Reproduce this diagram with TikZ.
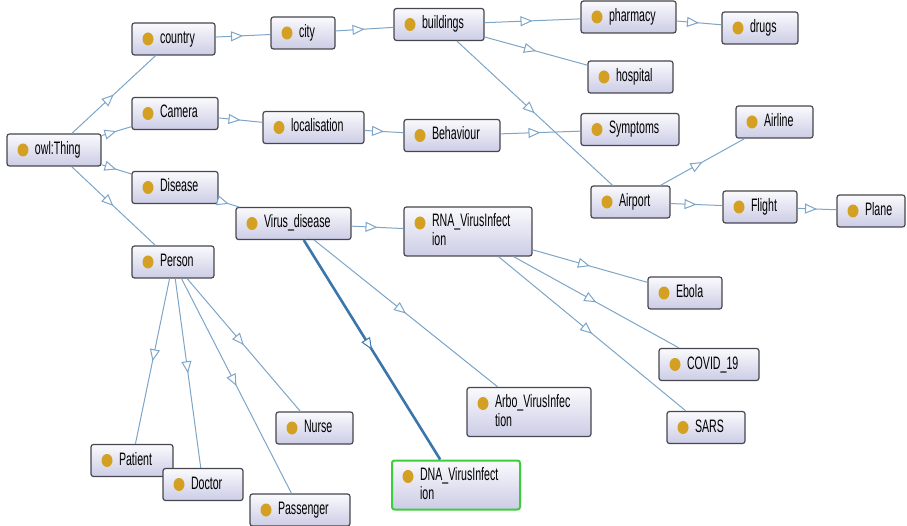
\documentclass[tikz,border=0pt]{standalone}
\usepackage{fontspec}
\setmainfont{Liberation Sans}[FakeStretch=0.59]
\usepackage{tikz}
\usetikzlibrary{arrows.meta,decorations.markings}
\usepackage{xcolor}
\definecolor{boxline}{RGB}{70,70,78}
\definecolor{boxtop}{RGB}{250,250,253}
\definecolor{boxbot}{RGB}{204,204,230}
\definecolor{dotgold}{RGB}{212,160,36}
\definecolor{isablue}{RGB}{125,165,200}
\definecolor{dnablue}{RGB}{58,118,172}
\definecolor{selgreen}{RGB}{60,205,60}
\tikzstyle{cls} = [draw=boxline, line width=1.2pt, rounded corners=2.5pt,
  top color=boxtop, bottom color=boxbot, inner xsep=0pt, inner ysep=2pt,
  minimum height=32pt, text height=13pt, text depth=4pt, align=left,
  font=\fontsize{18}{19}\selectfont, execute at begin node={\leftskip=28pt},
  path picture={\fill[dotgold] ([xshift=16pt,yshift=-16pt]path picture bounding box.north west) ellipse (5.5pt and 6.5pt);}]
\tikzstyle{twoline} = [minimum height=49pt, text depth=23pt]
\tikzstyle{isa} = [draw=isablue, line width=1pt, postaction={decorate},
  decoration={markings, mark=at position 0.5 with {\arrow[line width=1pt]{Triangle[length=12pt,width=10pt,fill=white]}}}]
\tikzstyle{isabold} = [isa, draw=dnablue, line width=2.6pt]

\begin{document}
\begin{tikzpicture}[x=1pt,y=-1pt]
\useasboundingbox (0,0) rectangle (907,526);

% Classes
\node[cls, text width=94pt] (thing) at (54,150) {owl:Thing};
\node[cls, text width=83pt] (country) at (173.5,39) {country};
\node[cls, text width=64pt] (city) at (303,33) {city};
\node[cls, text width=90pt] (buildings) at (439,24.5) {buildings};
\node[cls, text width=95pt] (pharmacy) at (628.5,17) {pharmacy};
\node[cls, text width=76pt] (drugs) at (760,28) {drugs};
\node[cls, text width=85pt] (hospital) at (630.5,77) {hospital};
\node[cls, text width=86pt] (camera) at (175,113.5) {Camera};
\node[cls, text width=101pt] (localisation) at (313.5,127.5) {localisation};
\node[cls, text width=96pt] (behaviour) at (452,135.5) {Behaviour};
\node[cls, text width=98pt] (symptoms) at (630,129.5) {Symptoms};
\node[cls, text width=77pt] (airline) at (774.5,122) {Airline};
\node[cls, text width=79pt] (airport) at (630.5,202) {Airport};
\node[cls, text width=74pt] (flight) at (760,207) {Flight};
\node[cls, text width=68pt] (plane) at (871,211) {Plane};
\node[cls, text width=86pt] (disease) at (175,187.5) {Disease};
\node[cls, text width=115pt] (virus) at (293.5,223.5) {Virus\_disease};
\node[cls, twoline, text width=128pt] (rna) at (468,231.5) {RNA\_VirusInfect\\ion};
\node[cls, text width=82pt] (person) at (173,262) {Person};
\node[cls, text width=74pt] (ebola) at (685,293) {Ebola};
\node[cls, text width=100pt] (covid) at (709,364.5) {COVID\_19};
\node[cls, text width=78pt] (sars) at (706,427.5) {SARS};
\node[cls, twoline, text width=124pt] (arbo) at (529,412) {Arbo\_VirusInfec\\tion};
\node[cls, twoline, text width=128pt, draw=selgreen, line width=2pt] (dna) at (456,485) {DNA\_VirusInfect\\ion};
\node[cls, text width=77pt] (nurse) at (314.5,428) {Nurse};
\node[cls, text width=82pt] (patient) at (132,460.5) {Patient};
\node[cls, text width=80pt] (doctor) at (203,484.5) {Doctor};
\node[cls, text width=100pt] (passenger) at (300,510) {Passenger};

% Subclass links
\foreach \a/\b in {thing/country, thing/camera, thing/disease, thing/person,
    country/city, city/buildings, buildings/pharmacy, buildings/hospital,
    buildings/airport, pharmacy/drugs, camera/localisation,
    localisation/behaviour, behaviour/symptoms, airport/airline,
    airport/flight, flight/plane, disease/virus, virus/rna, virus/arbo,
    rna/ebola, rna/covid, rna/sars, person/patient, person/doctor,
    person/passenger, person/nurse} {
    \draw[isa] (\a) -- (\b);
}
\draw[isabold] (virus) -- (dna);
\end{tikzpicture}
\end{document}
